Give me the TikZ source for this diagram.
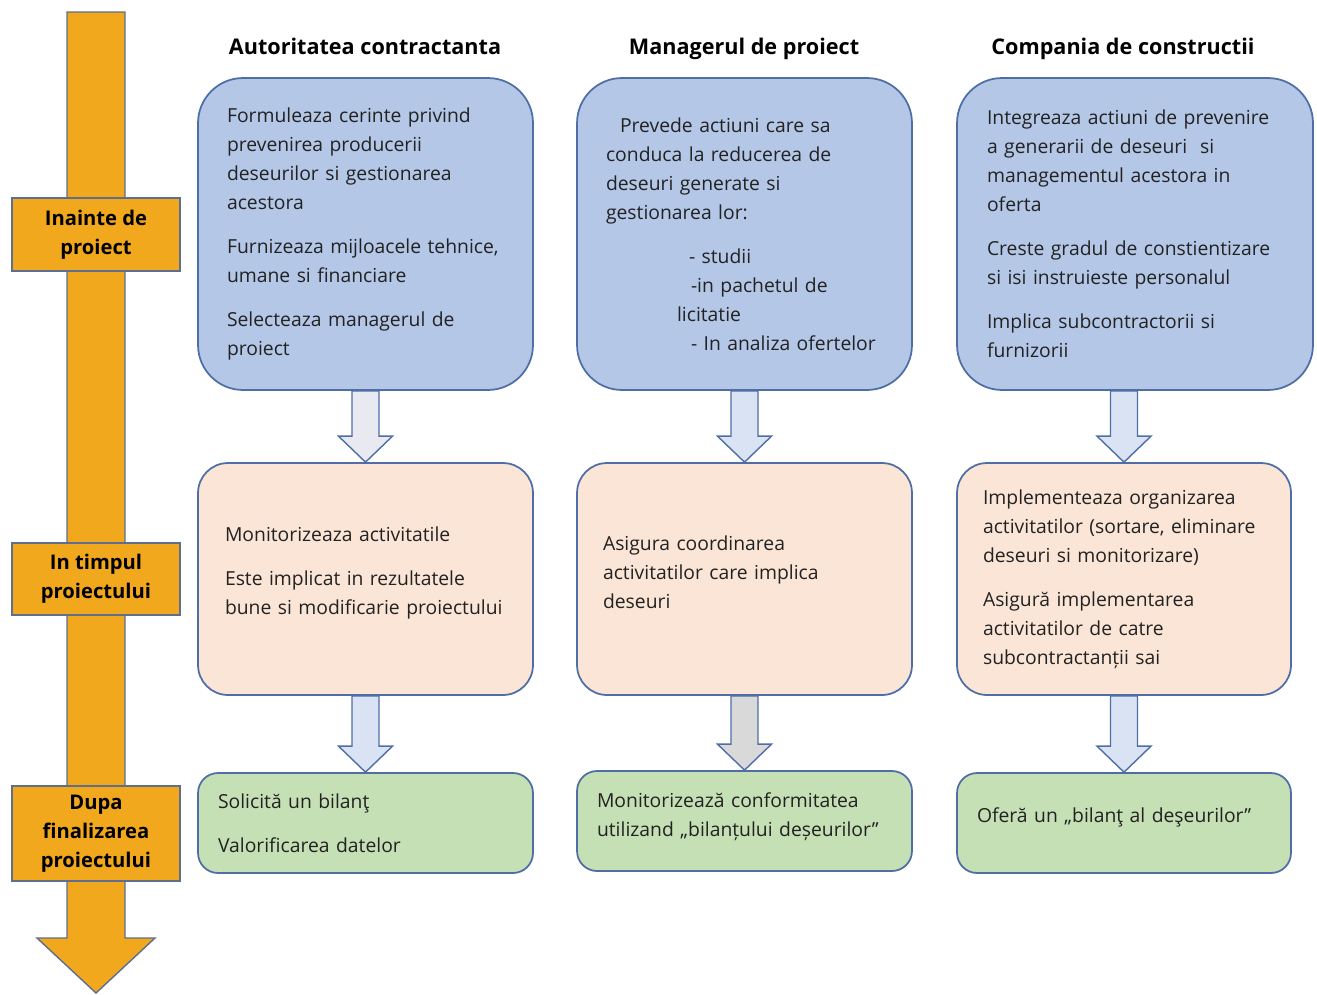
\documentclass[tikz,border=0pt]{standalone}
\usepackage{fontspec}
\setmainfont{Open Sans}
\usepackage{tikz}
\usetikzlibrary{calc}

\definecolor{boxline}{HTML}{4F6EA6}
\definecolor{topfill}{HTML}{B4C7E7}
\definecolor{midfill}{HTML}{FBE5D6}
\definecolor{endfill}{HTML}{C5E0B4}
\definecolor{timeorange}{HTML}{F2A81D}
\definecolor{timeline}{HTML}{5D6E8E}
\definecolor{arrowblue}{HTML}{DAE3F3}
\definecolor{arrowpale}{HTML}{E8E9F1}
\definecolor{arrowgrey}{HTML}{D9D9D9}
\definecolor{txt}{HTML}{222222}

\tikzset{
  bodytext/.style={font=\fontsize{11}{16.5}\selectfont, text=txt, align=left},
  topbox/.style={bodytext, draw=boxline, line width=1pt, fill=topfill,
    rounded corners=0.9cm, minimum height=6.24cm},
  midbox/.style={bodytext, draw=boxline, line width=1pt, fill=midfill,
    rounded corners=0.6cm, minimum height=4.64cm},
  endbox/.style={bodytext, draw=boxline, line width=1pt, fill=endfill,
    rounded corners=0.4cm, minimum height=2cm},
  header/.style={font=\fontsize{12.3}{16.5}\selectfont\bfseries, text=black, anchor=base},
  phase/.style={draw=timeline, line width=0.8pt, fill=timeorange,
    font=\fontsize{11.5}{16.5}\selectfont\bfseries, align=center,
    minimum width=3.36cm, inner sep=0pt},
  blk/.style={draw=boxline, line width=0.8pt, line join=miter}
}

% block arrow from the bottom of #2 down to the top of #3
\newcommand{\blkarrow}[3][arrowblue]{%
  \draw[blk, fill=#1] ($(#3.north |- #2.south)+(-13.5,0)$)
    -- ($(#3.north)+(-13.5,-26)$) -- ($(#3.north)+(-27,-26)$)
    -- (#3.north) -- ($(#3.north)+(27,-26)$) -- ($(#3.north)+(13.5,-26)$)
    -- ($(#3.north |- #2.south)+(13.5,0)$) -- cycle;}

\begin{document}
\begin{tikzpicture}[x=0.02cm, y=-0.02cm]
  \useasboundingbox (0,0) rectangle (1317,994);

  % time line
  \draw[draw=timeline, line width=0.8pt, fill=timeorange, line join=miter]
    (67,12) -- (125,12) -- (125,938) -- (155,938) -- (96,993) -- (37,938)
    -- (67,938) -- cycle;
  \node[phase, minimum height=1.46cm] (before) at (96,234.5) {Inainte de\\proiect};
  \node[phase, minimum height=1.44cm] (during) at (96,579) {In timpul\\proiectului};
  \node[phase, minimum height=1.9cm] (after) at (96,833.5) {Dupa\\finalizarea\\proiectului};

  % column titles
  \node[header] (hac) at (365,54) {Autoritatea contractanta};
  \node[header] (hmp) at (744,54) {Managerul de proiect};
  \node[header] (hcc) at (1123,54) {Compania de constructii};

  % before the project
  \node[topbox, minimum width=6.7cm, text width=5.54cm, inner xsep=0.58cm] (ac1) at (365.5,234)
    {Formuleaza cerinte privind\\prevenirea producerii\\deseurilor si gestionarea\\acestora\\[0.3cm]
     Furnizeaza mijloacele tehnice,\\umane si financiare\\[0.3cm]
     Selecteaza managerul de\\proiect};
  \node[topbox, minimum width=6.7cm, text width=5.54cm, inner xsep=0.58cm] (mp1) at (744.5,234)
    {\hspace*{0.28cm}Prevede actiuni care sa\\conduca la reducerea de\\deseuri generate si\\gestionarea lor:\\[0.3cm]
     \hspace*{1.66cm}- studii\\
     \hspace*{1.7cm}-in pachetul de\\
     \hspace*{1.42cm}licitatie\\
     \hspace*{1.7cm}- In analiza ofertelor};
  \node[topbox, minimum width=7.12cm, text width=5.92cm, inner xsep=0.6cm] (cc1) at (1135,234)
    {Integreaza actiuni de prevenire\\a generarii de deseuri\ \ si\\managementul acestora in\\oferta\\[0.3cm]
     Creste gradul de constientizare\\si isi instruieste personalul\\[0.3cm]
     Implica subcontractorii si\\furnizorii};

  % during the project
  \node[midbox, minimum width=6.7cm, text width=5.62cm, inner xsep=0.54cm] (ac2) at (365.5,579)
    {Monitorizeaza activitatile\\[0.3cm]
     Este implicat in rezultatele\\bune si modificarie proiectului\\[-0.24cm]\mbox{}};
  \node[midbox, minimum width=6.7cm, text width=5.66cm, inner xsep=0.52cm] (mp2) at (744.5,579)
    {Asigura coordinarea\\activitatilor care implica\\deseuri\\[-0.3cm]\mbox{}};
  \node[midbox, minimum width=6.68cm, text width=5.64cm, inner xsep=0.52cm] (cc2) at (1124,579)
    {Implementeaza organizarea\\activitatilor (sortare, eliminare\\deseuri si monitorizare)\\[0.3cm]
     Asigură implementarea\\activitatilor de catre\\subcontractanții sai};

  % after the project
  \node[endbox, minimum width=6.7cm, text width=5.9cm, inner xsep=0.4cm] (ac3) at (365.5,823)
    {Solicită un bilanţ\\[0.3cm]Valorificarea datelor};
  \node[endbox, minimum width=6.7cm, text width=5.9cm, inner xsep=0.4cm] (mp3) at (744.5,821)
    {Monitorizează conformitatea\\utilizand „bilanțului deșeurilor”\\[-0.34cm]\mbox{}};
  \node[endbox, minimum width=6.68cm, text width=5.88cm, inner xsep=0.4cm] (cc3) at (1124,823)
    {Oferă un „bilanţ al deşeurilor”\\[-0.26cm]\mbox{}};

  \blkarrow[arrowpale]{ac1}{ac2}
  \blkarrow{mp1}{mp2}
  \blkarrow{cc1}{cc2}
  \blkarrow{ac2}{ac3}
  \blkarrow[arrowgrey]{mp2}{mp3}
  \blkarrow{cc2}{cc3}
\end{tikzpicture}
\end{document}
